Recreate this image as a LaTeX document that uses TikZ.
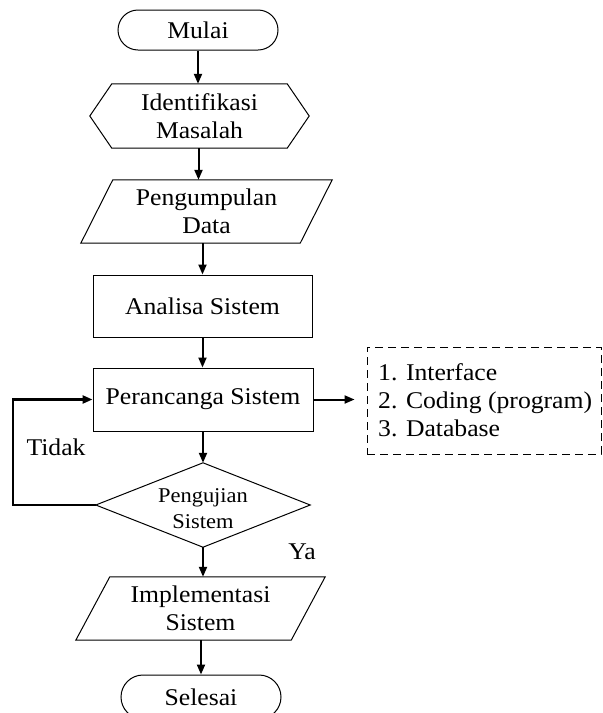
\documentclass[tikz,border=0pt]{standalone}
\usepackage{fontspec}
\setmainfont{Liberation Serif}[FakeStretch=1.07]
\usetikzlibrary{arrows.meta,shapes.misc}
\begin{document}
\begin{tikzpicture}[x=1pt,y=-1pt,
  lbl/.style={font=\fontsize{24}{28}\selectfont, align=center, inner sep=0pt},
  small/.style={font=\fontsize{21}{26}\selectfont, align=center, inner sep=0pt},
  shp/.style={draw, line width=1pt, line join=miter},
  term/.style={lbl, shp, rounded rectangle, minimum width=160pt},
  procbox/.style={lbl, shp, rectangle, minimum width=219pt, minimum height=63pt},
  arr/.style={line width=2pt, -{Triangle[length=10pt,width=8pt]}},
  looparr/.style={line width=2.4pt, -{Triangle[length=10pt,width=8pt]}},
  dashbox/.style={draw, line width=0.9pt, dash pattern=on 8pt off 5pt, minimum width=234pt, minimum height=107pt, inner sep=0pt}
]
\useasboundingbox (0,0) rectangle (603,713);

% Mulai
\node[term, minimum height=40pt] (mulai) at (198,30) {Mulai};

% Identifikasi Masalah (hexagon)
\node[lbl, minimum width=219pt, minimum height=64pt] (hex) at (199.5,116) {Identifikasi\\Masalah};
\draw[shp] ([xshift=22pt]hex.north west) -- ([xshift=-22pt]hex.north east) -- (hex.east)
  -- ([xshift=-22pt]hex.south east) -- ([xshift=22pt]hex.south west) -- (hex.west) -- cycle;

% Pengumpulan Data (parallelogram)
\node[lbl, minimum width=251pt, minimum height=63pt] (pd) at (206.5,211.5) {Pengumpulan\\Data};
\draw[shp] ([xshift=32pt]pd.north west) -- (pd.north east) -- ([xshift=-32pt]pd.south east)
  -- (pd.south west) -- cycle;

% Analisa Sistem
\node[procbox, minimum height=62pt] (as) at (202.5,306) {Analisa Sistem};

% Perancanga Sistem
\node[procbox, minimum width=220pt] (ps) at (203,399.5) {Perancanga Sistem};

% Dashed list
\node[dashbox] (db) at (484,400.5) {};
\node[lbl, align=left, anchor=west] (dt) at (378,400) {1. Interface\\2. Coding (program)\\3. Database};

% Pengujian Sistem (diamond)
\node[minimum width=214pt, minimum height=84pt, inner sep=0pt] (dia) at (203,505) {};
\draw[shp] (dia.north) -- (dia.east) -- (dia.south) -- (dia.west) -- cycle;
\node[small] (diat) at (203,509) {Pengujian\\Sistem};

% Implementasi Sistem (parallelogram)
\node[lbl, minimum width=249pt, minimum height=63pt] (im) at (200.5,608.5) {Implementasi\\Sistem};
\draw[shp] ([xshift=34pt]im.north west) -- (im.north east) -- ([xshift=-34pt]im.south east)
  -- (im.south west) -- cycle;

% Selesai
\node[term, minimum height=44pt] (sel) at (201,697) {Selesai};

% labels
\node[lbl] (ya) at (302,552) {Ya};
\node[lbl] (tidak) at (56,447) {Tidak};

% connectors
\draw[arr] (mulai.south) -- (mulai.south |- hex.north);
\draw[arr] ([xshift=-1pt]hex.south) -- ([xshift=-1pt]hex.south |- pd.north);
\draw[arr] (as.north |- pd.south) -- (as.north);
\draw[arr] (as.south) -- (as.south |- ps.north);
\draw[arr] (ps.east) -- ([xshift=-12pt]db.west |- ps.east);
\draw[arr] (ps.south) -- (dia.north);
\draw[arr] (dia.south) -- (dia.south |- im.north);
\draw[arr] (sel.north |- im.south) -- (sel.north);
\coordinate (lp) at (13,505);
\draw[looparr] (dia.west) -- (lp) |- (ps.west);
\end{tikzpicture}
\end{document}
